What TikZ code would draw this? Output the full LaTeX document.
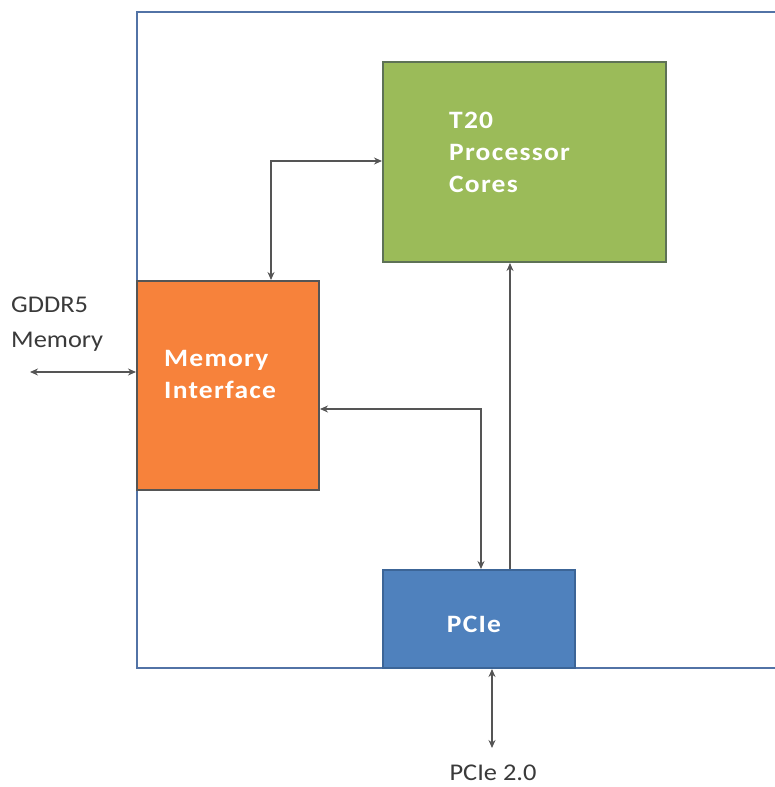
\documentclass[tikz,border=0pt]{standalone}
\usepackage{fontspec}
\setmainfont{Carlito}[FakeStretch=1.1]
\newfontfamily\boldlab{Carlito}[FakeStretch=1.1,LetterSpace=5,BoldFont={* Bold}]
\usetikzlibrary{arrows.meta}
\definecolor{frameblue}{HTML}{5273A6}
\definecolor{greenfill}{HTML}{9BBB59}
\definecolor{greenedge}{HTML}{5E7256}
\definecolor{orangefill}{HTML}{F7823B}
\definecolor{orangeedge}{HTML}{555555}
\definecolor{bluefill}{HTML}{4F81BD}
\definecolor{blueedge}{HTML}{3C6597}
\definecolor{wire}{HTML}{555555}
\definecolor{graytext}{HTML}{3A3A3A}
\begin{document}
\begin{tikzpicture}[x=1pt,y=-1pt,
  blockbox/.style={draw, line width=2pt, minimum width=#1, inner sep=0pt},
  boldtxt/.style={text=white, font=\boldlab\bfseries\fontsize{25}{32}\selectfont, align=left, inner sep=0pt},
  graytxt/.style={text=graytext, font=\fontsize{24}{35}\selectfont, align=left, inner sep=0pt},
  wirestyle/.style={draw=wire, line width=1.3pt},
  tip/.tip={Stealth[length=8pt,width=7pt]}
]
\useasboundingbox (0,0) rectangle (775,787);
% frame
\draw[frameblue, line width=2pt] (775,12) -- (137,12) -- (137,668) -- (775,668);
% blocks
\node[blockbox=283pt, minimum height=200pt, fill=greenfill, draw=greenedge] (cores) at (524.5,162) {};
\node[blockbox=182pt, minimum height=209pt, fill=orangefill, draw=orangeedge] (mem) at (228,385.5) {};
\node[blockbox=192pt, minimum height=98pt, fill=bluefill, draw=blueedge] (pcie) at (479,619) {};
% texts
\node[boldtxt, anchor=north west] (coresT) at (449,112) {T20\\Processor\\Cores};
\node[boldtxt, anchor=north west] (memT) at (164,350) {Memory\\Interface};
\node[boldtxt] (pcieT) at (474,624) {PCIe};
\node[graytxt, anchor=north west] (gddr) at (11,297) {GDDR5\\Memory};
\node[graytxt] (pcie2) at (493,773) {PCIe 2.0};
% connectors
\coordinate (c1) at ([xshift=135pt]mem.north west);
\coordinate (c1b) at ([yshift=-100pt]cores.north west);
\draw[wirestyle, {tip}-{tip}] (c1) |- (c1b);
\coordinate (p2) at ([xshift=128pt]pcie.north west);
\draw[wirestyle, -{tip}] (p2) -- (p2 |- cores.south);
\coordinate (m3) at ([yshift=-23.5pt]mem.east);
\coordinate (p3) at ([xshift=99pt]pcie.north west);
\draw[wirestyle, {tip}-{tip}] (m3) -| (p3);
\coordinate (g) at (30,372);
\draw[wirestyle, {tip}-{tip}] (g) -- (g -| mem.west);
\coordinate (q) at (492,748);
\draw[wirestyle, {tip}-{tip}] (q |- pcie.south) -- (q);
\end{tikzpicture}
\end{document}
